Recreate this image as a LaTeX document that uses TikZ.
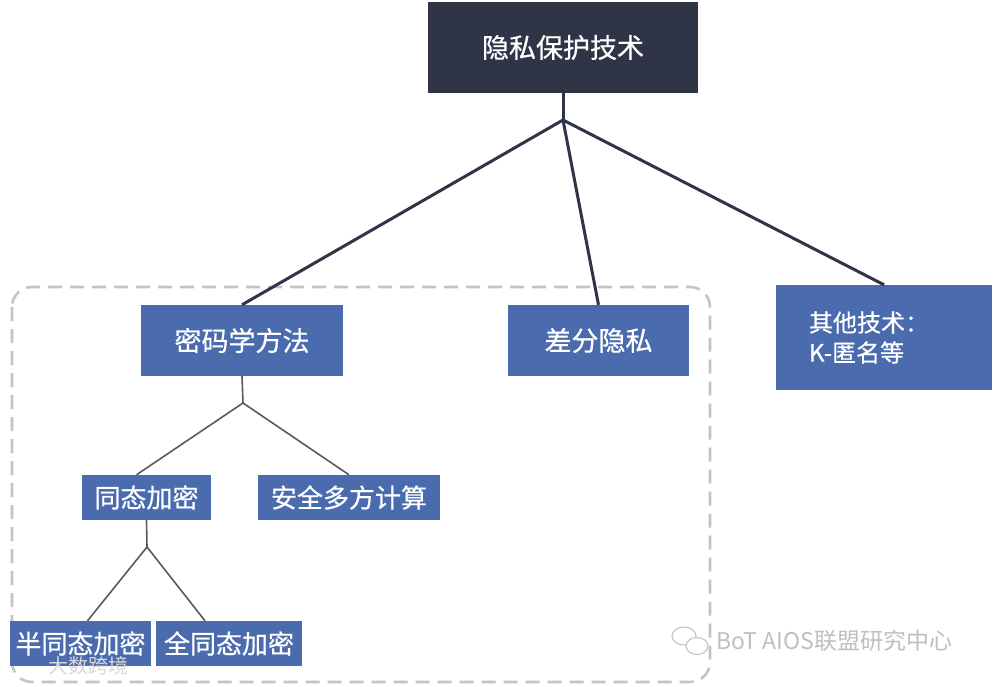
\documentclass[tikz,border=0pt]{standalone}
\usepackage{fontspec}
\setmainfont{Noto Sans CJK SC}
\newfontfamily\medfont[FakeBold=0.6]{Noto Sans CJK SC}
\usetikzlibrary{calc}
\definecolor{navy}{HTML}{2F3547}
\definecolor{boxblue}{HTML}{4A6BAE}
\definecolor{lowline}{HTML}{5A5A5A}
\definecolor{dashgray}{HTML}{C4C4C4}
\begin{document}
\begin{tikzpicture}[x=1pt,y=-1pt,
  topbox/.style={fill=navy,text=white,inner sep=0pt,font=\medfont\fontsize{27}{30}\selectfont},
  bluebox/.style={fill=boxblue,text=white,inner sep=0pt,font=\medfont\fontsize{27}{30}\selectfont},
  smallbox/.style={fill=boxblue,text=white,inner sep=0pt,font=\medfont\fontsize{26}{30}\selectfont},
  topline/.style={draw=navy,line width=3pt},
  lowlink/.style={draw=lowline,line width=1.6pt},
  wm/.style={text=gray!50,inner sep=0pt,font=\fontsize{23}{26}\selectfont}]
\useasboundingbox (0,0) rectangle (994,686);
\fill[white] (0,0) rectangle (994,686);
% dashed group frame
\draw[dashgray,line width=2.6pt,dash pattern=on 14pt off 8pt,rounded corners=20pt] (12,287) rectangle (710,682);
% nodes
\node[topbox,minimum width=270,minimum height=91] (root) at (563,47.5) {隐私保护技术};
\node[bluebox,minimum width=202,minimum height=71] (crypto) at (242,340.5) {密码学方法};
\node[bluebox,minimum width=181,minimum height=71] (diff) at (598.5,340.5) {差分隐私};
\node[bluebox,minimum width=216,minimum height=105,text width=150,align=left,font=\medfont\fontsize{24}{30}\selectfont] (other) at (884,337.5) {其他技术：\\K-匿名等};
\node[smallbox,minimum width=129,minimum height=45] (homo) at (146.5,497.5) {同态加密};
\node[smallbox,minimum width=182,minimum height=45] (smc) at (349,497.5) {安全多方计算};
\node[smallbox,minimum width=141,minimum height=45] (semi) at (80.5,643.5) {半同态加密};
\node[smallbox,minimum width=146,minimum height=45] (full) at (229,643.5) {全同态加密};
% connectors
\coordinate (b1) at (563,120);
\coordinate (b2) at (243,403);
\coordinate (b3) at (147,547);
\draw[topline] (root.south) -- (b1);
\draw[topline] (b1) -- (crypto.north);
\draw[topline] (b1) -- (diff.north);
\draw[topline] (b1) -- (other.north);
\draw[lowlink] (crypto.south) -- (b2);
\draw[lowlink] (b2) -- ($(homo.north)+(-10,0)$);
\draw[lowlink] (b2) -- (smc.north);
\draw[lowlink] (homo.south) -- (b3);
\draw[lowlink] (b3) -- ($(semi.north)+(7,0)$);
\draw[lowlink] (b3) -- ($(full.north)+(-24,0)$);
% watermarks
\node[wm,anchor=west] (wm1) at (716,641) {BoT AIOS联盟研究中心};
\draw[gray!50,line width=1pt] (684,636) ellipse (12 and 9);
\draw[gray!50,line width=1pt,fill=white] (697,646) ellipse (11 and 8.5);
\node[text=gray!30,inner sep=0pt,anchor=west,font=\fontsize{20}{22}\selectfont] (wm2) at (48,666) {大数跨境};
\end{tikzpicture}
\end{document}
